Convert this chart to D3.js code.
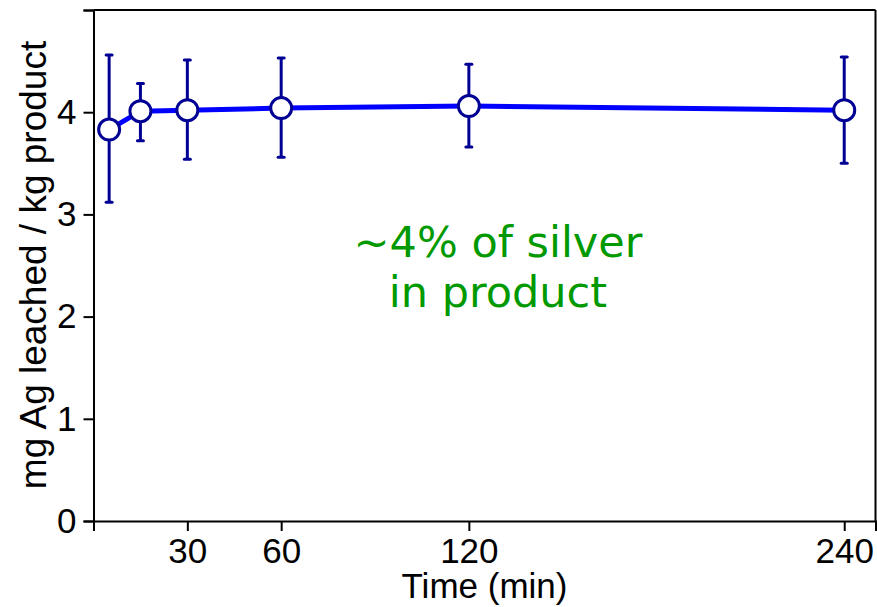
<!DOCTYPE html>
<meta charset="utf-8">
<style>
body { margin: 0; background: #fff; }
.tick text { font-family: "Liberation Sans", Arial, sans-serif; font-size: 35px; fill: #000; }
</style>
<body>
<script src="https://d3js.org/d3.v7.min.js"></script>
<script>

// data
var times = [5, 15, 30, 60, 120, 240];
var means = [3.83, 4.01, 4.02, 4.04, 4.06, 4.02];
var upper = [4.56, 4.28, 4.51, 4.53, 4.47, 4.54];
var lower = [3.12, 3.72, 3.54, 3.56, 3.66, 3.50];
var xTicks = [0, 30, 60, 120, 240, 250];
var yTicks = [0, 1, 2, 3, 4, 5];
var note = ["~4% of silver", "in product"];

var data = times.map(function(t, i) {
  return {t: t, m: means[i], hi: upper[i], lo: lower[i]};
});

var margin = {top: 10, right: 1.5, bottom: 86, left: 93.5},
    width = 877 - margin.left - margin.right,
    height = 607 - margin.top - margin.bottom;

var x = d3.scaleLinear().domain([0, 250]).range([0, width]);
var y = d3.scaleLinear().domain([0, 5]).range([height, 0]);

var svg = d3.select("body").append("svg")
    .attr("width", 877)
    .attr("height", 607)
  .append("g")
    .attr("transform", "translate(" + margin.left + "," + margin.top + ")");

// frame: top and right lines
svg.append("line").attr("x1", 0).attr("x2", width).attr("y1", 0).attr("y2", 0)
    .attr("stroke", "#000").attr("stroke-width", 2);
svg.append("line").attr("x1", width).attr("x2", width).attr("y1", 0).attr("y2", height)
    .attr("stroke", "#000").attr("stroke-width", 2);

// x axis
var xAxis = svg.append("g")
    .attr("transform", "translate(0," + height + ")")
    .call(d3.axisBottom(x).tickValues(xTicks).tickSize(10).tickPadding(7)
      .tickFormat(function(d) { return (d === 0 || d === 250) ? "" : d; }));
xAxis.select(".domain").attr("stroke-width", 2);
xAxis.selectAll(".tick line").attr("stroke-width", 2);

// y axis
var yAxis = svg.append("g")
    .call(d3.axisLeft(y).tickValues(yTicks).tickSize(10).tickPadding(7)
      .tickFormat(function(d) { return d === 5 ? "" : d; }));
yAxis.select(".domain").attr("stroke-width", 2);
yAxis.selectAll(".tick line").attr("stroke-width", 2);

// axis titles
svg.append("text")
    .attr("x", width / 2)
    .attr("y", height + 77)
    .attr("text-anchor", "middle")
    .style("font-family", "'Liberation Sans', Arial, sans-serif")
    .style("font-size", "35px")
    .text("Time (min)");

svg.append("text")
    .attr("transform", "translate(" + (46 - margin.left) + "," + (265 - margin.top) + ") rotate(-90)")
    .attr("text-anchor", "middle")
    .style("font-family", "'Liberation Sans', Arial, sans-serif")
    .style("font-size", "37px")
    .text("mg Ag leached / kg product");

// mean line
var line = d3.line()
    .x(function(d) { return x(d.t); })
    .y(function(d) { return y(d.m); });

svg.append("path")
    .datum(data)
    .attr("d", line)
    .attr("fill", "none")
    .attr("stroke", "#0000ff")
    .attr("stroke-width", 5);

// error bars
var navy = "#000094";
var bars = svg.selectAll(".err").data(data).enter().append("g").attr("class", "err");
bars.append("line")
    .attr("x1", function(d) { return x(d.t); })
    .attr("x2", function(d) { return x(d.t); })
    .attr("y1", function(d) { return y(d.hi); })
    .attr("y2", function(d) { return y(d.lo); })
    .attr("stroke", navy).attr("stroke-width", 3);
bars.append("line")
    .attr("x1", function(d) { return x(d.t) - 3; })
    .attr("x2", function(d) { return x(d.t) + 3; })
    .attr("y1", function(d) { return y(d.hi); })
    .attr("y2", function(d) { return y(d.hi); })
    .attr("stroke", navy).attr("stroke-width", 3).attr("stroke-linecap", "round");
bars.append("line")
    .attr("x1", function(d) { return x(d.t) - 3; })
    .attr("x2", function(d) { return x(d.t) + 3; })
    .attr("y1", function(d) { return y(d.lo); })
    .attr("y2", function(d) { return y(d.lo); })
    .attr("stroke", navy).attr("stroke-width", 3).attr("stroke-linecap", "round");

// markers
svg.selectAll(".pt").data(data).enter().append("circle")
    .attr("class", "pt")
    .attr("cx", function(d) { return x(d.t); })
    .attr("cy", function(d) { return y(d.m); })
    .attr("r", 10.5)
    .attr("fill", "#fff")
    .attr("stroke", navy)
    .attr("stroke-width", 3);

// annotation
var ann = svg.append("text")
    .attr("text-anchor", "middle")
    .style("font-family", "'DejaVu Sans', Verdana, sans-serif")
    .style("font-size", "43px")
    .attr("fill", "#009900");
ann.selectAll("tspan").data(note).enter().append("tspan")
    .attr("x", 498 - margin.left)
    .attr("y", function(d, i) { return 257 - margin.top + i * 50; })
    .text(function(d) { return d; });

</script>
</body>
